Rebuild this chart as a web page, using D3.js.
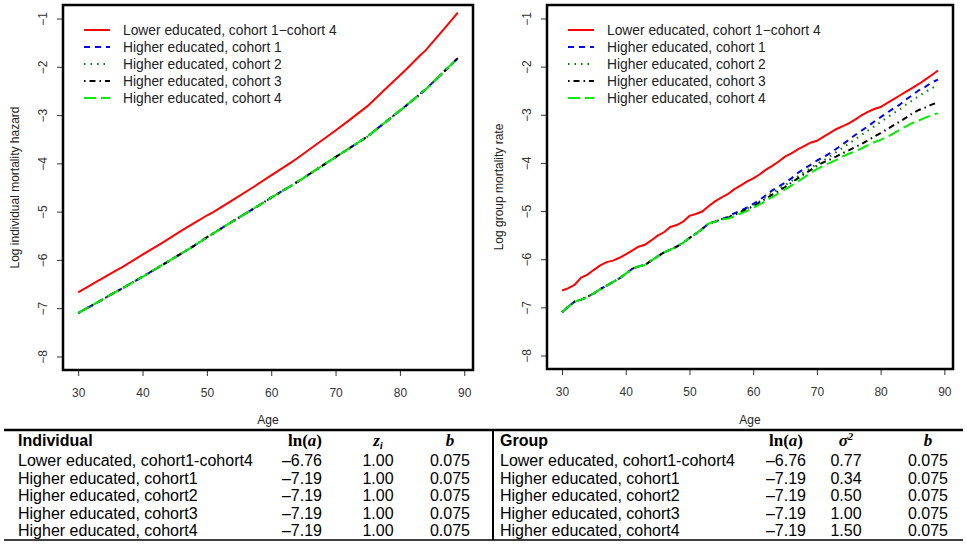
<!DOCTYPE html>
<html lang="en">
<head>
<meta charset="UTF-8">
<title>Individual and group log mortality by education and cohort</title>
<script src="https://d3js.org/d3.v7.min.js"></script>
<style>
    body { margin: 0; background: #fff; }
    svg text { font-family: Arial, "Liberation Sans", sans-serif; }
    .tick text { font-size: 12px; fill: #333; }
    .tick line { stroke: #333; }
    .axis-title { font-size: 12px; fill: #222; }
    .legend-text { font-size: 13.8px; fill: #222; }
    .tbl { font-size: 16px; fill: #000; }
    .tbl-head { font-size: 16px; font-weight: bold; fill: #000; }
    .math { font-family: "Liberation Serif", "DejaVu Serif", serif; font-size: 17px; font-weight: bold; }
</style>
</head>
<body>
<svg width="967" height="544"></svg>
<script>
// ---- data ----
var seriesNames = ["Lower educated, cohort 1\u2212cohort 4", "Higher educated, cohort 1",
    "Higher educated, cohort 2", "Higher educated, cohort 3", "Higher educated, cohort 4"];

// left panel: log individual mortality hazard
var leftAges = [30, 33, 36, 37, 40, 43, 46, 48, 50, 51, 54, 57, 60, 63, 64, 67, 70, 72, 75, 78, 81, 83, 84, 86, 88, 89];
var leftLower = [-6.67, -6.44, -6.21, -6.14, -5.89, -5.65, -5.40, -5.24, -5.08, -5.01, -4.76, -4.51, -4.25,
    -3.99, -3.90, -3.61, -3.32, -3.12, -2.81, -2.43, -2.05, -1.78, -1.66, -1.35, -1.04, -0.88];
// all four higher-educated cohorts coincide in the individual panel
var leftHigher = [-7.10, -6.88, -6.65, -6.58, -6.35, -6.11, -5.87, -5.71, -5.53, -5.45, -5.20, -4.96, -4.71,
    -4.47, -4.39, -4.13, -3.87, -3.70, -3.44, -3.12, -2.80, -2.58, -2.47, -2.21, -1.95, -1.82];

// right panel: log group mortality rate, one value per age 30..89
var rightAges = d3.range(30, 90);
var rightLower = [-6.65, -6.60, -6.53, -6.38, -6.32, -6.22, -6.13, -6.06, -6.03, -5.97,
    -5.90, -5.82, -5.74, -5.70, -5.61, -5.51, -5.44, -5.33, -5.29, -5.22,
    -5.10, -5.06, -5.01, -4.90, -4.80, -4.72, -4.65, -4.55, -4.47, -4.39,
    -4.32, -4.24, -4.14, -4.06, -3.97, -3.87, -3.80, -3.72, -3.65, -3.58,
    -3.54, -3.46, -3.38, -3.30, -3.24, -3.18, -3.10, -3.01, -2.94, -2.88,
    -2.84, -2.76, -2.68, -2.60, -2.52, -2.44, -2.36, -2.27, -2.18, -2.08];
// ages 30..55, where the higher-educated cohorts overlap
var rightHigherEarly = [-7.10, -6.98, -6.88, -6.84, -6.78, -6.71, -6.62, -6.55, -6.47, -6.40,
    -6.30, -6.20, -6.15, -6.12, -6.03, -5.94, -5.86, -5.80, -5.74, -5.66,
    -5.56, -5.47, -5.37, -5.26, -5.22, -5.17];
// ages 56..89
var rightC1 = [-5.12, -5.05, -4.99, -4.93, -4.85, -4.77, -4.67, -4.57, -4.49, -4.41,
    -4.32, -4.21, -4.12, -4.04, -3.95, -3.88, -3.80, -3.71, -3.62, -3.52,
    -3.42, -3.33, -3.24, -3.14, -3.05, -2.96, -2.87, -2.79, -2.68, -2.59,
    -2.49, -2.42, -2.33, -2.27];
var rightC2 = [-5.13, -5.07, -5.01, -4.95, -4.88, -4.80, -4.71, -4.62, -4.54, -4.46,
    -4.38, -4.28, -4.19, -4.11, -4.02, -3.95, -3.87, -3.78, -3.69, -3.60,
    -3.51, -3.42, -3.33, -3.24, -3.15, -3.06, -2.97, -2.89, -2.79, -2.70,
    -2.61, -2.53, -2.45, -2.38];
var rightC3 = [-5.14, -5.08, -5.02, -4.96, -4.90, -4.82, -4.74, -4.66, -4.58, -4.50,
    -4.41, -4.32, -4.23, -4.15, -4.06, -3.99, -3.93, -3.87, -3.80, -3.74,
    -3.67, -3.61, -3.53, -3.45, -3.38, -3.30, -3.22, -3.14, -3.06, -2.97,
    -2.90, -2.85, -2.79, -2.74];
var rightC4 = [-5.16, -5.11, -5.05, -5.00, -4.94, -4.86, -4.79, -4.71, -4.63, -4.55,
    -4.47, -4.39, -4.30, -4.21, -4.13, -4.06, -4.00, -3.94, -3.87, -3.81,
    -3.76, -3.70, -3.63, -3.57, -3.52, -3.46, -3.39, -3.31, -3.24, -3.17,
    -3.12, -3.06, -3.01, -2.97];

var xTicks = [30, 40, 50, 60, 70, 80, 90];
var yTicks = [-8, -7, -6, -5, -4, -3, -2, -1];

// table
var tableNames = ["Lower educated, cohort1-cohort4", "Higher educated, cohort1", "Higher educated, cohort2",
    "Higher educated, cohort3", "Higher educated, cohort4"];
var lnA = ["\u20136.76", "\u20137.19", "\u20137.19", "\u20137.19", "\u20137.19"];
var zi = ["1.00", "1.00", "1.00", "1.00", "1.00"];
var sigma2 = ["0.77", "0.34", "0.50", "1.00", "1.50"];
var bVals = ["0.075", "0.075", "0.075", "0.075", "0.075"];

// line styles, R lty 1..5
var colors = ["#ff0000", "#0000ff", "#008000", "#000000", "#00ee00"];
var dashes = [null, "6,5", "1.5,5", "1.5,4,6,4", "12,5"];

var svg = d3.select("svg");

function zip(xs, ys) {
    return xs.map(function(a, i) { return [a, ys[i]]; });
}

function panel(opt) {
    var x = d3.scaleLinear().domain([27.64, 91.36]).range([opt.left, opt.right]);
    var y = d3.scaleLinear().domain([-8.28, -0.72]).range([opt.bottom, opt.top]);
    var g = svg.append("g");

    var line = d3.line()
        .x(function(d) { return x(d[0]); })
        .y(function(d) { return y(d[1]); });

    opt.series.forEach(function(s, i) {
        g.append("path")
            .datum(s)
            .attr("fill", "none")
            .attr("stroke", colors[i])
            .attr("stroke-width", 2)
            .attr("stroke-dasharray", dashes[i])
            .attr("d", line);
    });

    // x axis
    var xa = g.append("g")
        .attr("transform", "translate(0," + opt.bottom + ")")
        .call(d3.axisBottom(x).tickValues(xTicks).tickSize(6).tickSizeOuter(0));
    xa.select(".domain").remove();
    xa.selectAll("text").attr("y", 27).attr("dy", 0);

    // y axis, labels parallel to axis
    var ya = g.append("g")
        .attr("transform", "translate(" + opt.left + ",0)")
        .call(d3.axisLeft(y).tickValues(yTicks).tickSize(6).tickSizeOuter(0)
            .tickFormat(function(d) { return "\u2212" + Math.abs(d); }));
    ya.select(".domain").remove();
    ya.selectAll("text")
        .attr("transform", "rotate(-90)")
        .attr("x", 0).attr("y", -16).attr("dy", 0)
        .style("text-anchor", "middle");

    g.append("rect")
        .attr("x", opt.left).attr("y", opt.top)
        .attr("width", opt.right - opt.left).attr("height", opt.bottom - opt.top)
        .attr("fill", "none").attr("stroke", "#000").attr("stroke-width", 2.5);

    g.append("text").attr("class", "axis-title")
        .attr("x", (opt.left + opt.right) / 2).attr("y", 424)
        .attr("text-anchor", "middle").text("Age");
    var cy = (opt.top + opt.bottom) / 2;
    g.append("text").attr("class", "axis-title")
        .attr("transform", "translate(" + opt.ytx + "," + cy + ") rotate(-90)")
        .attr("text-anchor", "middle").text(opt.ytitle);

    // legend
    seriesNames.forEach(function(name, i) {
        var ly = 30 + i * 17;
        g.append("line")
            .attr("x1", opt.left + 21).attr("x2", opt.left + 47)
            .attr("y1", ly).attr("y2", ly)
            .attr("stroke", colors[i]).attr("stroke-width", 2)
            .attr("stroke-dasharray", dashes[i]);
        g.append("text").attr("class", "legend-text")
            .attr("x", opt.left + 60).attr("y", ly + 5)
            .text(name);
    });
}

var leftSeries = [zip(leftAges, leftLower), zip(leftAges, leftHigher), zip(leftAges, leftHigher),
    zip(leftAges, leftHigher), zip(leftAges, leftHigher)];
var rightSeries = [zip(rightAges, rightLower)].concat([rightC1, rightC2, rightC3, rightC4].map(function(tail) {
    return zip(rightAges, rightHigherEarly.concat(tail));
}));

panel({left: 63, right: 473, top: 5, bottom: 370, ytx: 19,
    ytitle: "Log individual mortality hazard", series: leftSeries});
panel({left: 547, right: 953, top: 5, bottom: 369, ytx: 503,
    ytitle: "Log group mortality rate", series: rightSeries});

// ---- parameter table ----
var t = svg.append("g");
t.append("line").attr("x1", 4).attr("x2", 963).attr("y1", 430).attr("y2", 430)
    .attr("stroke", "#000").attr("stroke-width", 2.5);
t.append("line").attr("x1", 4).attr("x2", 963).attr("y1", 540).attr("y2", 540)
    .attr("stroke", "#000").attr("stroke-width", 1.5);
t.append("line").attr("x1", 493).attr("x2", 493).attr("y1", 430).attr("y2", 540)
    .attr("stroke", "#000").attr("stroke-width", 2);

function table(opt) {
    t.append("text").attr("class", "tbl-head").attr("x", opt.nameX).attr("y", 446).text(opt.title);

    var h1 = t.append("text").attr("class", "math").attr("x", opt.c1).attr("y", 446)
        .attr("text-anchor", "middle");
    h1.append("tspan").text("ln(");
    h1.append("tspan").style("font-style", "italic").text("a");
    h1.append("tspan").text(")");

    var h2 = t.append("text").attr("class", "math").attr("x", opt.c2).attr("y", 446)
        .attr("text-anchor", "middle").style("font-style", "italic");
    if (opt.second === "z") {
        h2.append("tspan").text("z");
        h2.append("tspan").attr("dy", 3).style("font-size", "11px").text("i");
    } else {
        h2.append("tspan").text("\u03c3");
        h2.append("tspan").attr("dy", -6).style("font-size", "11px").text("2");
    }

    t.append("text").attr("class", "math").attr("x", opt.c3).attr("y", 446)
        .attr("text-anchor", "middle").style("font-style", "italic").text("b");

    tableNames.forEach(function(name, i) {
        var ry = 466 + i * 17.5;
        t.append("text").attr("class", "tbl").attr("x", opt.nameX).attr("y", ry).text(name);
        t.append("text").attr("class", "tbl").attr("x", opt.c1v).attr("y", ry)
            .attr("text-anchor", "end").text(lnA[i]);
        t.append("text").attr("class", "tbl").attr("x", opt.c2).attr("y", ry)
            .attr("text-anchor", "middle").text(opt.secondVals[i]);
        t.append("text").attr("class", "tbl").attr("x", opt.c3).attr("y", ry)
            .attr("text-anchor", "middle").text(bVals[i]);
    });
}

table({title: "Individual", nameX: 18, c1: 305, c1v: 322, c2: 378, c3: 450, second: "z", secondVals: zi});
table({title: "Group", nameX: 500, c1: 786, c1v: 806, c2: 846, c3: 928, second: "s", secondVals: sigma2});
</script>
</body>
</html>
